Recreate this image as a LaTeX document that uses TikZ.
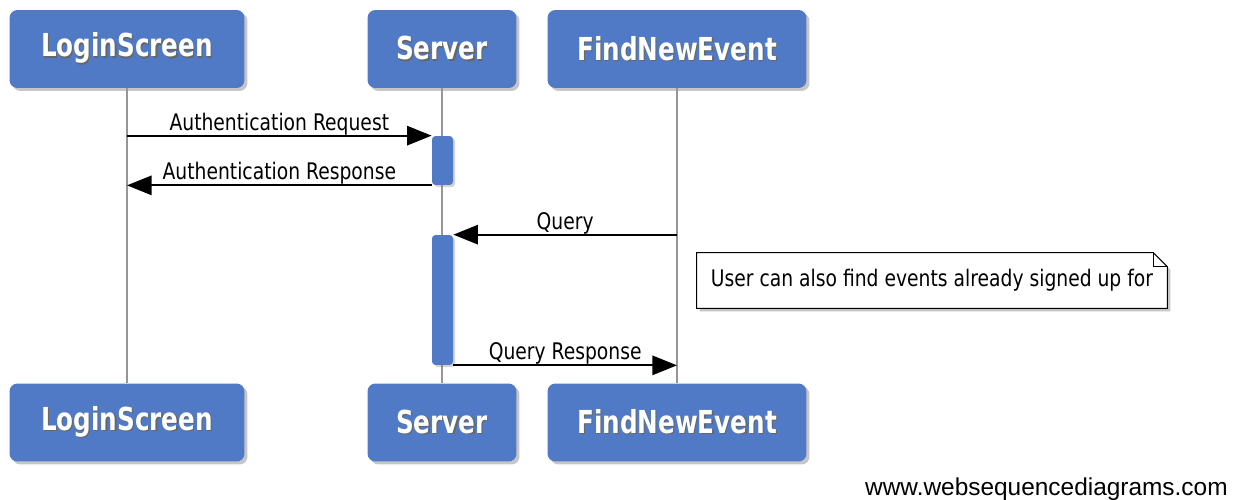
\documentclass[tikz,border=0pt]{standalone}
\usepackage{fontspec}
\newfontfamily\msgfont[FakeStretch=0.82]{DejaVu Sans}
\newfontfamily\actfont[FakeStretch=0.78]{DejaVu Sans}
\newfontfamily\webfont{Liberation Sans}
\usetikzlibrary{arrows.meta,positioning,shadows,backgrounds}
\definecolor{actblue}{RGB}{80,122,197}
\definecolor{lifegray}{RGB}{150,150,150}
\newcommand{\shadowed}[1]{\makebox[0pt][l]{\kern0.7pt\raisebox{-0.7pt}{\color{black!60}#1}}#1}

\begin{document}
\begin{tikzpicture}[x=0.02cm, y=-0.02cm,
  actor/.style={fill=actblue, rounded corners=4.5pt, minimum height=1.56cm, text=white,
    font=\actfont\bfseries\fontsize{18}{20}\selectfont,
    drop shadow={opacity=0.45, shadow xshift=1.7pt, shadow yshift=-1.7pt}},
  bar/.style={fill=actblue, rounded corners=2pt, minimum width=0.42cm, inner sep=0pt,
    drop shadow={opacity=0.35, shadow xshift=1.2pt, shadow yshift=-1.2pt}},
  life/.style={draw=lifegray, line width=1.1pt},
  msg/.style={line width=1.1pt, -{Triangle[length=14pt, width=11pt]}},
  lbl/.style={midway, anchor=base, yshift=3.2pt, inner sep=0pt,
    font=\msgfont\fontsize{13}{15}\selectfont}]
\useasboundingbox (0,0) rectangle (1238,500);
\node[actor, minimum width=4.7cm] (LSt) at (127,49) {\shadowed{LoginScreen}};
\node[actor, minimum width=2.98cm] (SVt) at (442,49) {\shadowed{Server}};
\node[actor, minimum width=5.18cm] (FNt) at (677,49) {\shadowed{FindNewEvent}};
\node[actor, minimum width=4.7cm] (LSb) at (127,422.5) {\shadowed{LoginScreen}};
\node[actor, minimum width=2.98cm] (SVb) at (442,422.5) {\shadowed{Server}};
\node[actor, minimum width=5.18cm] (FNb) at (677,422.5) {\shadowed{FindNewEvent}};
\foreach \a/\b in {LSt/LSb, SVt/SVb, FNt/FNb}{
  \draw[life] (\a) -- (\b);}
\node[bar, minimum height=0.98cm] (act1) at (442.5,160.5) {};
\node[bar, minimum height=2.6cm] (act2) at (442.5,300) {};
\draw[msg] (LSt.south |- act1.north) -- node[lbl] {Authentication Request} (act1.north west);
\draw[msg] (act1.south west) -- node[lbl] {Authentication Response} (LSt.south |- act1.south);
\draw[msg] (FNt.south |- act2.north) -- node[lbl] {Query} (act2.north east);
\draw[msg] (act2.south east) -- node[lbl] {Query Response} (FNt.south |- act2.south);
% note beside FindNewEvent
\node[minimum width=9.4cm, minimum height=1.1cm, inner sep=0pt,
  font=\msgfont\fontsize{13}{15}\selectfont] (note) at (932,280.5)
  {User can also find events already signed up for};
\begin{scope}[on background layer]
\draw[fill=white, line width=0.6pt,
  drop shadow={opacity=0.45, shadow xshift=1.7pt, shadow yshift=-1.7pt}]
  (note.south west) -- (note.north west) -- ([xshift=-8pt]note.north east)
  -- ([yshift=-8pt]note.north east) -- (note.south east) -- cycle;
\end{scope}
\draw[line width=0.6pt] ([xshift=-8pt]note.north east) |- ([yshift=-8pt]note.north east);
\node[anchor=base east, inner sep=0pt, font=\webfont\fontsize{13.9}{16}\selectfont]
  (web) at (1228,495) {www.websequencediagrams.com};
\end{tikzpicture}
\end{document}
